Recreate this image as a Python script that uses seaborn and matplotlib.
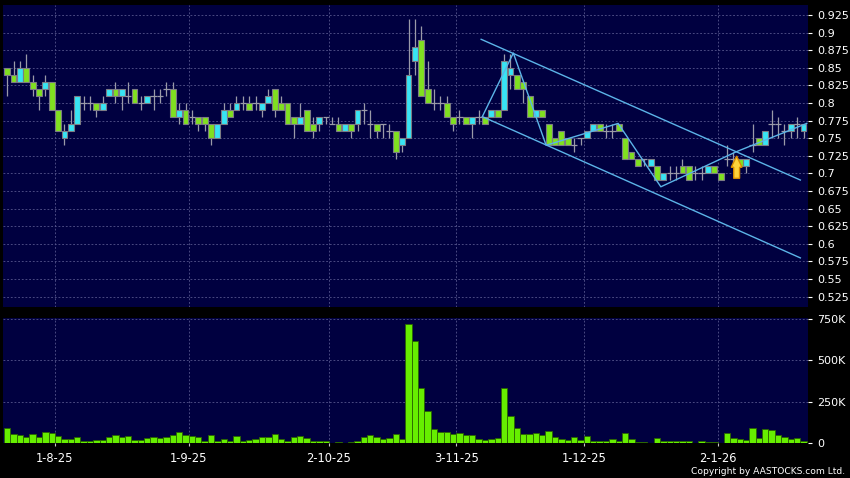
import numpy as np
import pandas as pd
import matplotlib
matplotlib.use("Agg")
import matplotlib.pyplot as plt
import seaborn as sns
from matplotlib.patches import Polygon

# ---------------- data ----------------
opens = [.85,.84,.83,.85,.83,.82,.82,.83,.79,.75,.76,.77,.80,.80,.80,.79,.81,.82,.81,.81,
         .82,.80,.80,.81,.81,.82,.82,.78,.79,.78,.78,.78,.77,.75,.77,.79,.79,.80,.80,.80,
         .79,.80,.82,.80,.80,.78,.77,.79,.77,.77,.78,.77,.77,.76,.77,.77,.79,.77,.77,.77,
         .76,.76,.74,.75,.86,.89,.82,.80,.80,.80,.78,.78,.78,.77,.78,.78,.78,.79,.79,.84,
         .84,.83,.81,.78,.79,.77,.75,.76,.75,.74,.75,.75,.76,.77,.76,.76,.77,.75,.73,.72,
         .72,.71,.71,.69,.70,.70,.71,.71,.70,.70,.70,.71,.70,.72,.72,.72,.71,.74,.75,.74,
         .77,.77,.76,.76,.77,.76]
closes = [.84,.83,.85,.83,.82,.81,.83,.79,.76,.76,.77,.81,.80,.80,.79,.80,.82,.81,.82,.81,
          .80,.80,.81,.81,.81,.82,.78,.79,.77,.78,.77,.77,.75,.77,.79,.78,.80,.80,.79,.80,
          .80,.81,.79,.79,.77,.77,.78,.76,.76,.78,.78,.77,.76,.77,.76,.79,.79,.77,.76,.77,
          .76,.73,.75,.84,.88,.81,.80,.80,.80,.78,.77,.78,.77,.78,.78,.77,.79,.78,.86,.85,
          .82,.82,.78,.79,.78,.74,.74,.74,.74,.74,.75,.76,.77,.76,.76,.76,.76,.72,.72,.71,
          .72,.72,.69,.70,.70,.70,.70,.69,.70,.70,.71,.70,.69,.72,.72,.71,.72,.74,.74,.76,
          .77,.77,.76,.77,.77,.77]
highs = [.85,.86,.86,.87,.84,.82,.84,.83,.79,.77,.79,.81,.81,.81,.80,.81,.82,.83,.82,.83,
         .82,.81,.81,.82,.82,.83,.83,.80,.80,.79,.78,.78,.77,.77,.80,.80,.81,.81,.81,.81,
         .80,.82,.82,.81,.80,.78,.80,.79,.78,.78,.78,.78,.78,.77,.77,.79,.80,.79,.77,.77,
         .77,.76,.75,.92,.92,.91,.86,.82,.81,.81,.78,.79,.78,.78,.79,.78,.79,.79,.87,.87,
         .84,.83,.81,.79,.79,.77,.75,.76,.75,.75,.75,.76,.77,.77,.77,.77,.77,.75,.73,.72,
         .72,.72,.71,.70,.71,.71,.72,.71,.71,.71,.71,.71,.70,.74,.73,.72,.72,.77,.75,.76,
         .79,.78,.77,.77,.78,.77]
lows = [.81,.83,.83,.83,.81,.79,.81,.79,.76,.74,.76,.77,.79,.79,.78,.79,.81,.80,.79,.80,
        .80,.79,.80,.79,.80,.81,.78,.77,.77,.77,.76,.76,.74,.75,.77,.78,.79,.79,.79,.79,
        .78,.80,.78,.79,.77,.75,.77,.76,.75,.76,.77,.77,.76,.76,.75,.76,.77,.75,.75,.75,
        .75,.72,.73,.75,.84,.81,.80,.79,.79,.78,.76,.77,.77,.75,.77,.77,.78,.78,.79,.82,
        .82,.80,.78,.78,.78,.74,.74,.74,.74,.73,.74,.75,.76,.76,.75,.75,.76,.72,.72,.71,
        .71,.71,.69,.69,.69,.69,.70,.69,.69,.69,.70,.70,.69,.71,.71,.71,.70,.73,.74,.74,
        .75,.75,.74,.75,.75,.75]
volume_k = [91,55,51,41,55,35,69,65,45,24,24,41,16,16,20,20,35,51,37,45,
            20,20,30,35,30,41,51,69,49,45,35,14,53,14,26,14,45,14,18,24,
            41,41,57,24,14,41,47,30,16,14,12,0,8,2,8,14,41,51,41,24,
            30,55,26,721,619,335,193,87,71,67,57,65,51,53,28,20,26,30,335,
            162,91,55,59,61,51,75,37,28,20,37,20,45,12,12,12,24,16,61,28,
            8,8,4,32,16,16,12,14,14,4,16,10,6,0,61,32,26,18,91,30,85,81,51,41,24,30,16]
date_labels = ["1-8-25", "1-9-25", "2-10-25", "3-11-25", "1-12-25", "2-1-26"]
date_first_idx = [7, 28, 50, 70, 90, 111]
price_ticks = [0.525, 0.55, 0.575, 0.6, 0.625, 0.65, 0.675, 0.7, 0.725, 0.75,
               0.775, 0.8, 0.825, 0.85, 0.875, 0.9, 0.925]
vol_ticks = [0, 250000, 500000, 750000]
vol_tick_labels = ["0", "250K", "500K", "750K"]

# hand-drawn annotations on the chart
zz_x = [74.6, 79.45, 84.6, 95.9, 102.6, 114.5, 125.5]
zz_y = [0.781, 0.871, 0.740, 0.771, 0.681, 0.731, 0.771]
upper_x = [74.4, 124.5]
upper_y = [0.8905, 0.6906]
lower_x = [74.6, 124.5]
lower_y = [0.7806, 0.580]
arrow_idx = 114.5
arrow_tip, arrow_base, arrow_head = 0.7247, 0.693, 0.7087

# ---------------- styling ----------------
NAVY = "#000040"
GRID = "#55558c"
GREEN = "#80e020"
CYAN = "#38e4f4"
EDGE = "#7c7c84"
WICK = "#9a9aa8"
LINE = "#5cb4e8"
VOLC = "#66ee00"

plt.rcParams["font.family"] = ["DejaVu Sans"]

n = len(opens)
idx = np.arange(n)
o = np.array(opens); c = np.array(closes); h = np.array(highs); l = np.array(lows)
vol = np.array(volume_k) * 1000.0

fig = plt.figure(figsize=(8.5, 4.78), dpi=100, facecolor="black")
axp = fig.add_axes([0.0039, 0.3584, 0.9463, 0.6311], facecolor=NAVY)
axv = fig.add_axes([0.0039, 0.0726, 0.9463, 0.2615], facecolor=NAVY)

xlim = (-0.6, n - 0.35)
grid_x = np.array(date_first_idx) + 0.5
dash = (0, (2.2, 2.2))

# ---- price panel ----
axp.vlines(idx, l, h, color=WICK, linewidth=0.9, zorder=2)
up = c > o
dn = c < o
fl = c == o
axp.bar(idx[up], (c - o)[up], bottom=o[up], width=0.92, color=CYAN,
        edgecolor=EDGE, linewidth=0.8, zorder=3)
axp.bar(idx[dn], (o - c)[dn], bottom=c[dn], width=0.92, color=GREEN,
        edgecolor=EDGE, linewidth=0.8, zorder=3)
axp.hlines(o[fl], idx[fl] - 0.5, idx[fl] + 0.5, color=WICK, linewidth=0.9, zorder=3)

sns.lineplot(x=zz_x, y=zz_y, ax=axp, color=LINE, linewidth=1.0, sort=False,
             estimator=None, zorder=4)
sns.lineplot(x=upper_x, y=upper_y, ax=axp, color=LINE, linewidth=1.0, sort=False,
             estimator=None, zorder=4)
sns.lineplot(x=lower_x, y=lower_y, ax=axp, color=LINE, linewidth=1.0, sort=False,
             estimator=None, zorder=4)

hw, bw = 0.85, 0.46
arrow = Polygon([(arrow_idx, arrow_tip), (arrow_idx + hw, arrow_head),
                 (arrow_idx + bw, arrow_head), (arrow_idx + bw, arrow_base),
                 (arrow_idx - bw, arrow_base), (arrow_idx - bw, arrow_head),
                 (arrow_idx - hw, arrow_head)], closed=True,
                facecolor="#ffd23a", edgecolor="#d88a00", linewidth=1.0, zorder=5)
axp.add_patch(arrow)

axp.set_xlim(*xlim)
axp.set_ylim(0.5107, 0.9392)
axp.set_yticks(price_ticks)
axp.set_yticklabels([f"{v:.3f}".rstrip("0").rstrip(".") for v in price_ticks])
axp.yaxis.tick_right()
axp.tick_params(axis="y", colors="white", length=3, width=0.8, pad=4,
                labelsize=8, labelcolor="white")
axp.set_xticks(grid_x)
axp.tick_params(axis="x", length=0, labelbottom=False)
axp.grid(True, color=GRID, linestyle=dash, linewidth=0.6)
axp.set_axisbelow(True)
for s in axp.spines.values():
    s.set_visible(False)

# ---- volume panel ----
vol_df = pd.DataFrame({"idx": idx, "volume": vol})
sns.barplot(data=vol_df, x="idx", y="volume", native_scale=True, color=VOLC,
            saturation=1, width=1.0, edgecolor="#2a6400", linewidth=0.6,
            errorbar=None, ax=axv, zorder=3)
axv.set_xlim(*xlim)
axv.set_ylim(0, 754000)
axv.set_yticks(vol_ticks)
axv.set_yticklabels(vol_tick_labels)
axv.yaxis.tick_right()
axv.tick_params(axis="y", colors="white", length=3, width=0.8, pad=4,
                labelsize=8, labelcolor="white")
axv.set_xticks(grid_x)
axv.set_xticklabels(date_labels)
axv.tick_params(axis="x", colors="#c8c8c8", length=2.5, width=0.8, pad=3.5,
                labelsize=8.3, labelcolor="white")
axv.set_xlabel("")
axv.set_ylabel("")
axv.grid(True, color=GRID, linestyle=dash, linewidth=0.6)
axv.set_axisbelow(True)
for s in axv.spines.values():
    s.set_visible(False)

fig.text(0.994, 0.0146, "Copyright by AASTOCKS.com Ltd.", color="white",
         fontsize=6.6, ha="right", va="center")

fig.savefig("out.png", dpi=100, facecolor="black")
